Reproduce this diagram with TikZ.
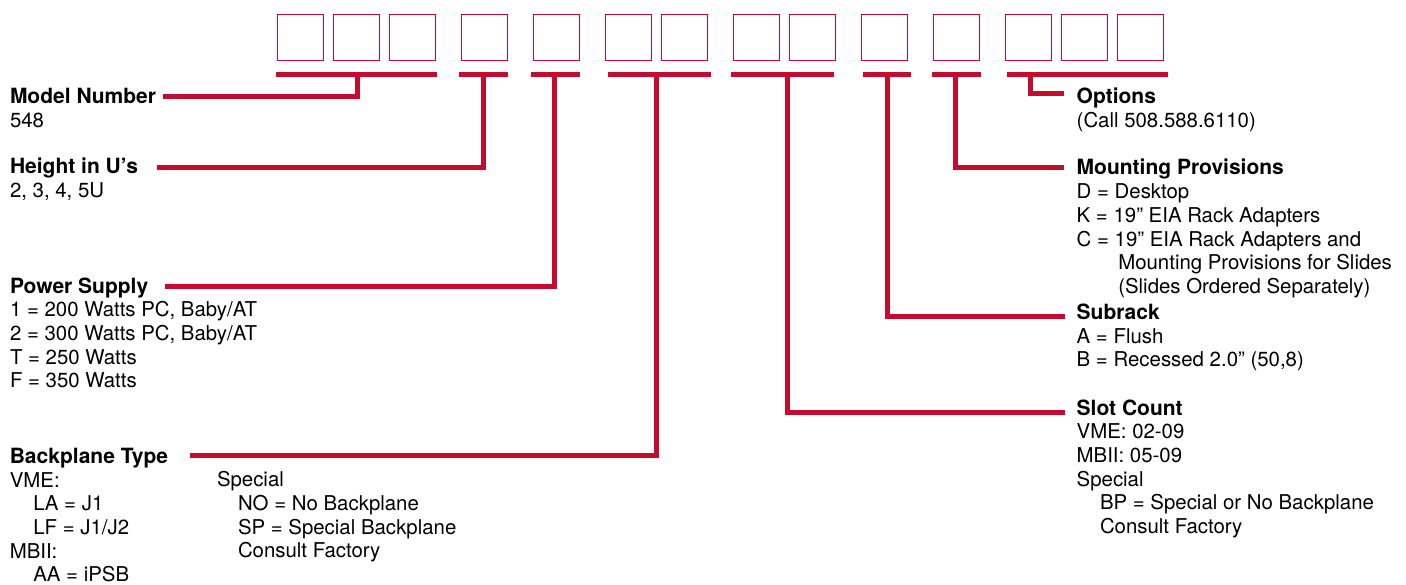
\documentclass[tikz,border=0pt]{standalone}
\usepackage{fontspec}
\setmainfont{TeX Gyre Heros}
\definecolor{sred}{RGB}{196,12,46}
\newcommand{\hd}{\fontsize{21}{23.7}\selectfont\bfseries\rule{0pt}{16pt}}
\begin{document}
\begin{tikzpicture}[x=1pt,y=-1pt,
  cell/.style={draw=sred, line width=1.3pt, minimum size=46pt, inner sep=0pt, outer sep=0pt},
  bar/.style={fill=sred, inner sep=0pt, outer sep=0pt, minimum height=5pt},
  conn/.style={draw=sred, line width=5pt},
  txt/.style={anchor=north west, inner sep=0pt, outer sep=0pt, align=left, yshift=16pt,
              font=\fontsize{20.4}{23.7}\selectfont}]
\useasboundingbox (0,0) rectangle (1406,585);
% code boxes
\foreach \i/\x in {1/300.3,2/356.3,3/412.3,4/484.3,5/556.3,6/628.3,7/684.3,
                   8/756.3,9/812.3,10/884.3,11/956.3,12/1028.3,13/1084.3,14/1140.3}
  \node[cell] (c\i) at (\x,37.7) {};
% bars
\node[bar, minimum width=161.3pt] (b1) at (356.35,74.8) {};
\node[bar, minimum width=49pt]    (b2) at (483.5,74.8) {};
\node[bar, minimum width=49pt]    (b3) at (555.5,74.8) {};
\node[bar, minimum width=102.7pt] (b4) at (659.6,74.8) {};
\node[bar, minimum width=102.7pt] (b5) at (782.4,74.8) {};
\node[bar, minimum width=48.3pt]  (b6) at (886.9,74.8) {};
\node[bar, minimum width=49pt]    (b7) at (956.2,74.8) {};
\node[bar, minimum width=161.3pt] (b8) at (1087.4,74.8) {};
% left texts (positions are first-line baselines)
\node[txt] (mn) at (10,104) {{\hd Model Number}\\548};
\node[txt] (hu) at (10,173.5) {{\hd Height in U’s}\\2, 3, 4, 5U};
\node[txt] (ps) at (10,293) {{\hd Power Supply}\\1 = 200 Watts PC, Baby/AT\\2 = 300 Watts PC, Baby/AT\\T = 250 Watts\\F = 350 Watts};
\node[txt] (bt) at (9.8,463.3) {{\hd Backplane Type}\\VME:\\\hspace*{23.5pt}LA = J1\\\hspace*{23.5pt}LF = J1/J2\\MBII:\\\hspace*{23.5pt}AA = iPSB};
\node[txt] (bs) at (217,486.8) {\rule{0pt}{16pt}Special\\\hspace*{21pt}NO = No Backplane\\\hspace*{21pt}SP = Special Backplane\\\hspace*{21pt}Consult Factory};
% right texts
\node[txt] (op) at (1076.7,104) {{\hd Options}\\(Call 508.588.6110)};
\node[txt] (mp) at (1076.7,175) {{\hd Mounting Provisions}\\D = Desktop\\K = 19” EIA Rack Adapters\\C = 19” EIA Rack Adapters and\\\hspace*{41.6pt}Mounting Provisions for Slides\\\hspace*{41.6pt}(Slides Ordered Separately)};
\node[txt] (sr) at (1076.7,319.5) {{\hd Subrack}\\A = Flush\\B = Recessed 2.0” (50,8)};
\node[txt] (sc) at (1076.7,415) {{\hd Slot Count}\\VME: 02-09\\MBII: 05-09\\Special\\\hspace*{23.3pt}BP = Special or No Backplane\\\hspace*{23.3pt}Consult Factory};
% connector ends
\coordinate (mnL) at (163,96.5);
\coordinate (huL) at (157,167.5);
\coordinate (psL) at (165,286.7);
\coordinate (btL) at (189.7,455.7);
\coordinate (opR) at (1064,93.3);
\coordinate (mpR) at (1064,168);
\coordinate (srR) at (1065,316.3);
\coordinate (scR) at (1065,412.7);
% connectors
\draw[conn] (b1.center -| 357.7,0) |- (mnL);
\draw[conn] (b2.center -| 483.3,0) |- (huL);
\draw[conn] (b3.center -| 554.3,0) |- (psL);
\draw[conn] (b4.center -| 656.7,0) |- (btL);
\draw[conn] (b5.center -| 787.3,0) |- (scR);
\draw[conn] (b6.center -| 887.3,0) |- (srR);
\draw[conn] (b7.center -| 955.7,0) |- (mpR);
\draw[conn] (b8.center -| 1030.7,0) |- (opR);
\end{tikzpicture}
\end{document}
